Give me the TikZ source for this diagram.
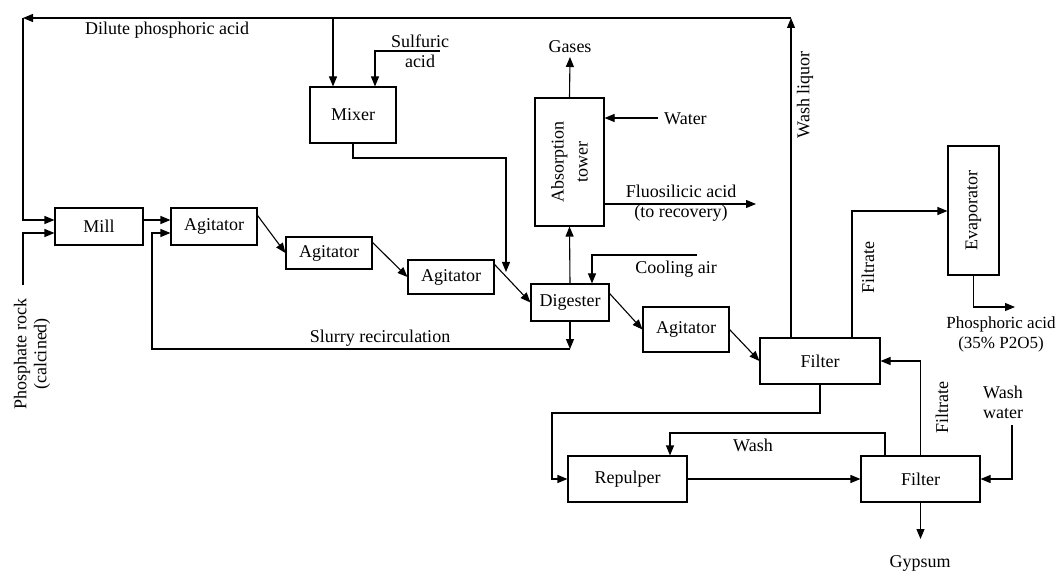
\documentclass[tikz,border=0pt]{standalone}
\usepackage{fontspec}
\setmainfont{Liberation Serif}
\usetikzlibrary{arrows.meta,calc}
\tikzset{
  box/.style={draw, line width=1.1pt, inner sep=0pt, font=\fontsize{18}{20}\selectfont},
  conn/.style={line width=1.1pt, -{Triangle[length=10pt,width=8pt]}},
  lbl/.style={inner sep=0pt, align=center, font=\fontsize{18}{20}\selectfont},
}
\begin{document}
\begin{tikzpicture}[x=1pt,y=-1pt]
\useasboundingbox (0,0) rectangle (1058,572);
% boxes
\node[box, minimum width=88pt, minimum height=37pt] (mill) at (99,226.5) {Mill};
\node[box, minimum width=86pt, minimum height=37pt] (ag1) at (214,226.5) {Agitator};
\node[box, minimum width=86pt, minimum height=32pt] (ag2) at (329,253) {Agitator};
\node[box, minimum width=86pt, minimum height=34pt] (ag3) at (451,277) {Agitator};
\node[box, minimum width=78pt, minimum height=37pt] (dig) at (570,302.5) {Digester};
\node[box, minimum width=86pt, minimum height=45pt] (ag4) at (686,329.5) {Agitator};
\node[box, minimum width=120pt, minimum height=46pt] (fil1) at (820,361) {Filter};
\node[box, minimum width=86pt, minimum height=56pt] (mixer) at (353,115) {Mixer};
\node[box, minimum width=69pt, minimum height=128pt] (tower) at (569.5,162) {};
\node[box, minimum width=51pt, minimum height=129pt] (evap) at (973.5,210.5) {};
\node[box, minimum width=119pt, minimum height=46pt] (rep) at (627.5,479) {Repulper};
\node[box, minimum width=119pt, minimum height=46pt] (fil2) at (920.5,479) {Filter};
\node[lbl, rotate=90, font=\fontsize{18}{24}\selectfont] (towerlbl) at (tower.center) {Absorption\\tower};
\node[lbl, rotate=90] (evaplbl) at (evap.center) {Evaporator};
% coordinates
\coordinate (wlTop) at (791,18);
\coordinate (tl) at (23,18);
\coordinate (mxin) at (333,18);
\coordinate (sa) at (440,51);
\coordinate (mxbend) at (506,158);
\coordinate (mxout) at (506,272);
\coordinate (ca) at (697,255);
\coordinate (gas) at (570,57);
\coordinate (wat) at (658,118);
\coordinate (fl) at (756,204);
\coordinate (slc) at (152,349);
\coordinate (ftb) at (852,211);
\coordinate (pa) at (1015,307);
\coordinate (rb) at (552,413);
\coordinate (wb) at (670,433);
\coordinate (ww) at (1012,425);
\coordinate (gy) at (920.5,539);
\coordinate (pr) at (23,285);
% connectors
\draw[conn] (fil1.north -| wlTop) -- (wlTop);
\draw[conn] (wlTop) -- (tl);
\draw[conn] (tl) |- ($(mill.west)+(0,-6.5)$);
\draw[conn] (mxin) -- (mxin |- mixer.north);
\draw[conn] (sa) -| ($(mixer.north)+(22,0)$);
\draw[conn] (mixer.south) |- (mxbend) -- (mxout);
\draw[conn] ($(mill.east)+(0,-6.5)$) -- ($(ag1.west)+(0,-6.5)$);
\draw[conn] ($(ag1.north east)+(0,8)$) -- (ag2.west);
\draw[conn] ($(ag2.north east)+(0,6)$) -- (ag3.west);
\draw[conn] ($(ag3.north east)+(0,5)$) -- (dig.west);
\draw[conn] ($(dig.north east)+(0,10)$) -- (ag4.west);
\draw[conn] (ag4.east) -- (fil1.west);
\draw[conn] (dig.north) -- (tower.south);
\draw[conn] (ca) -| ($(dig.north)+(22,0)$);
\draw[conn] (tower.north) -- (gas);
\draw[conn] (wat) -- (wat -| tower.east);
\draw[conn] (fl -| tower.east) -- (fl);
\draw[conn] (dig.south) -- (dig.south |- slc);
\draw[conn] (dig.south |- slc) -- (slc) |- ($(ag1.west)+(0,6.5)$);
\draw[conn] (fil1.north -| ftb) -- (ftb) -- (ftb -| evap.west);
\draw[conn] (evap.south) |- (pa);
\draw[conn] (fil1.south) |- (rb) |- (rep.west);
\draw[conn] (rep.east) -- (fil2.west);
\draw[conn] ($(fil2.north)+(-35.5,0)$) |- (wb) -- (wb |- rep.north);
\draw[conn] (fil2.north) |- (fil1.east);
\draw[conn] (ww) |- (fil2.east);
\draw[conn] (fil2.south) -- (gy);
\draw[conn] (pr) |- ($(mill.west)+(0,6.5)$);
% labels
\node[lbl] (l1) at (167,30) {Dilute phosphoric acid};
\node[lbl] (l2) at (420,51) {Sulfuric\\acid};
\node[lbl] (l3) at (570,47) {Gases};
\node[lbl, anchor=west] (l4) at (664,119) {Water};
\node[lbl] (l5) at (681,203) {Fluosilicic acid\\(to recovery)};
\node[lbl, rotate=90] (l6) at (805,95) {Wash liquor};
\node[lbl, rotate=90] (l7) at (868,268) {Filtrate};
\node[lbl] (l8) at (676,269) {Cooling air};
\node[lbl] (l9) at (380,338) {Slurry recirculation};
\node[lbl, font=\fontsize{17}{20}\selectfont] (l10) at (1001,334) {Phosphoric acid\\(35\% P2O5)};
\node[lbl] (l11) at (1003,402) {Wash\\water};
\node[lbl, rotate=90] (l12) at (942,408) {Filtrate};
\node[lbl] (l13) at (753,445) {Wash};
\node[lbl] (l14) at (920,563) {Gypsum};
\node[lbl, rotate=90] (l15) at (32,354) {Phosphate rock\\(calcined)};
\end{tikzpicture}
\end{document}
